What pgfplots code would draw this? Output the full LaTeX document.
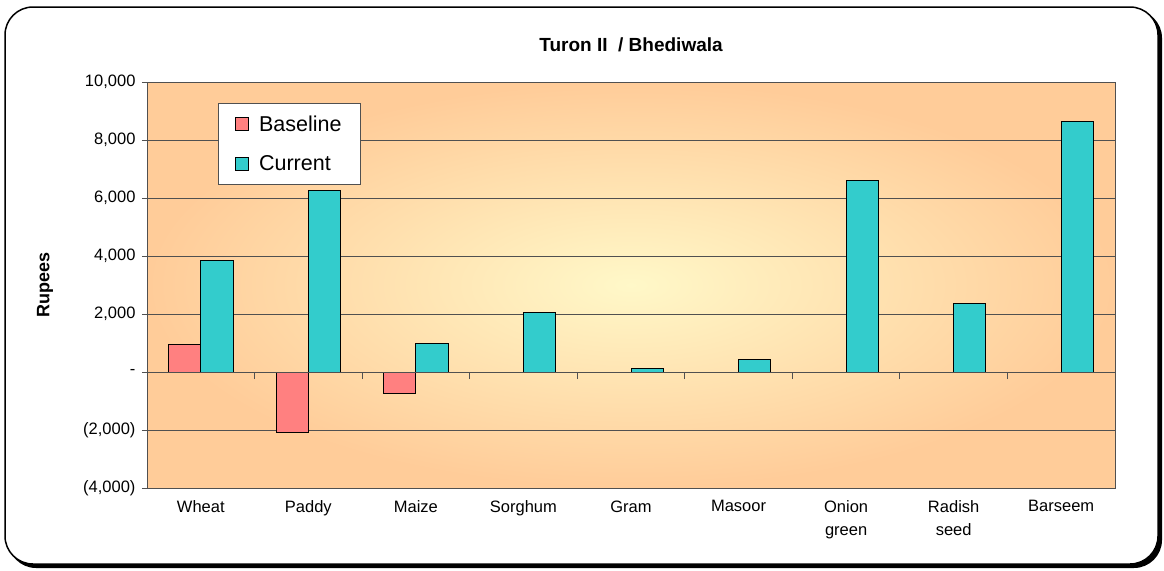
\documentclass[border=0pt]{standalone}
\usepackage{fontspec}
\setmainfont{Liberation Sans}
\usepackage{pgfplots}
\pgfplotsset{compat=1.18}
\definecolor{baseC}{HTML}{FF8080}
\definecolor{curC}{HTML}{33CCCC}
\definecolor{bgIn}{HTML}{FFF8C8}
\definecolor{bgOut}{HTML}{FFCC99}
\definecolor{gridC}{HTML}{505050}
\begin{document}
\begin{tikzpicture}[x=1pt,y=1pt]
\useasboundingbox (0,0) rectangle (1164,-570);
\fill[black, rounded corners=28pt] (8,-10) rectangle (1162,-568);
\draw[black, line width=1.5pt, fill=white, rounded corners=28pt] (5,-7) rectangle (1158,-564);
\node[font=\bfseries\fontsize{19}{22}\selectfont] at (631,-45) {Turon II\ \ / Bhediwala};
\node[font=\bfseries\fontsize{18}{22}\selectfont, rotate=90] at (45,-285) {Rupees};
\begin{axis}[
  at={(147pt,-488pt)}, anchor=south west,
  scale only axis, width=968pt, height=406pt,
  xmin=-0.5, xmax=8.5, ymin=-4000, ymax=10000,
  scaled y ticks=false,
  axis background/.style={shade, shading=radial, inner color=bgIn, outer color=bgOut},
  axis line style={draw=gridC, line width=0.8pt},
  ytick={-4000,-2000,...,10000},
  yticklabels={{(4,000)},{(2,000)},{-},{2,000},{4,000},{6,000},{8,000},{10,000}},
  ymajorgrids, grid style={draw=gridC, line width=0.8pt},
  y tick style={draw=gridC, line width=0.8pt},
  tick align=outside, major tick length=5pt,
  yticklabel style={font=\fontsize{16.5}{20}\selectfont, xshift=-3pt},
  xtick={0,...,8},
  xticklabels={Wheat,Paddy,Maize,Sorghum,Gram,Masoor,{Onion\\green},{Radish\\seed},Barseem},
  xticklabel style={align=center, font=\fontsize{16.5}{23}\selectfont, anchor=north, yshift=-4pt},
  x tick style={draw=none},
  xtick pos=bottom, ytick pos=left,
  /pgf/number format/assume math mode=true,
  legend style={at={(0.073,0.948)}, anchor=north west, draw=gridC, line width=0.8pt, fill=white,
    font=\fontsize{21.5}{24}\selectfont, inner xsep=17pt, inner ysep=10pt, row sep=19pt,
    /tikz/every odd column/.append style={column sep=8pt}},
  legend cell align=left,
  legend image code/.code={\draw[#1, draw=black, line width=1pt] (0pt,-6.5pt) rectangle (13pt,6.5pt);},
]
\addplot[ybar, bar width=0.3, bar shift=-0.15, fill=baseC, draw=black, line width=1pt]
  coordinates {(0,950) (1,-2100) (2,-750)};
\addlegendentry{Baseline}
\addplot[ybar, bar width=0.3, bar shift=0.15, fill=curC, draw=black, line width=1pt]
  coordinates {(0,3850) (1,6250) (2,1000) (3,2050) (4,120) (5,420) (6,6600) (7,2350) (8,8650)};
\addlegendentry{Current}
\end{axis}
\begin{axis}[
  at={(147pt,-488pt)}, anchor=south west,
  scale only axis, width=968pt, height=406pt,
  xmin=-0.5, xmax=8.5, ymin=-4000, ymax=10000,
  axis x line=middle, axis y line=none,
  x axis line style={-, draw=gridC, line width=1pt},
  xtick={0.5,1.5,...,7.5}, xticklabels={},
  tick align=outside, major tick length=7pt,
  x tick style={draw=gridC, line width=0.8pt},
]
\addplot[draw=none] coordinates {(0,0)};
\end{axis}
\end{tikzpicture}
\end{document}
